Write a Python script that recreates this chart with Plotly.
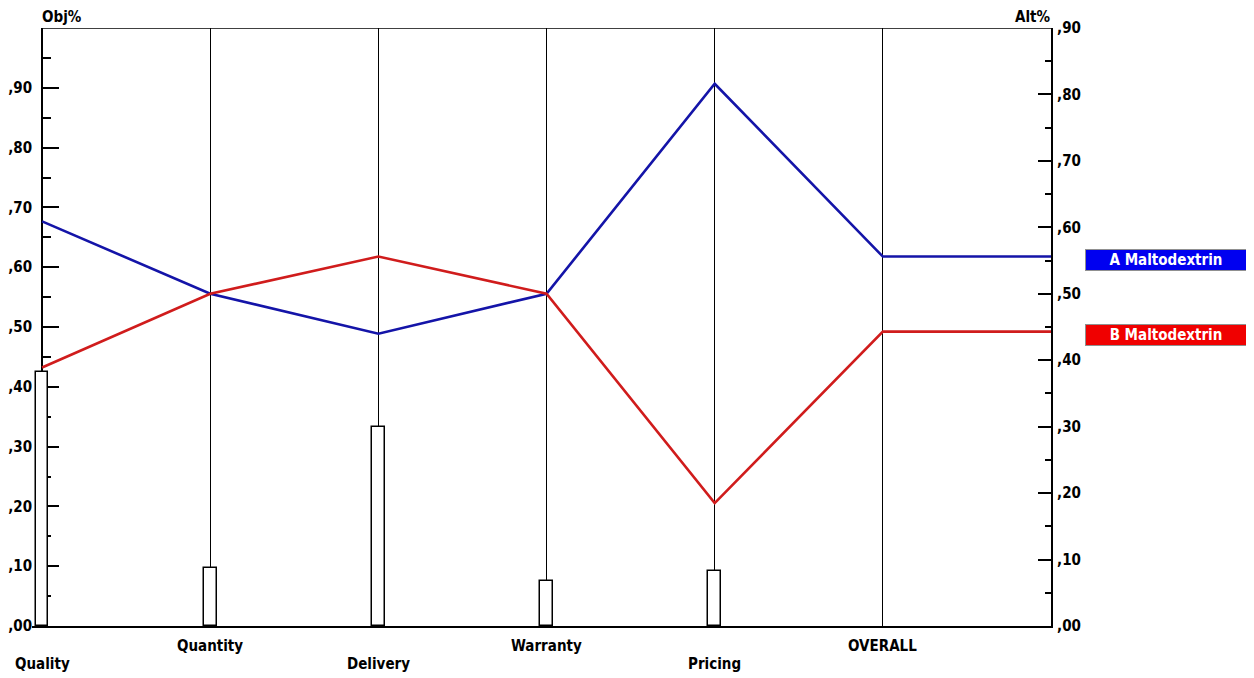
import plotly.graph_objects as go

# ---------------- data ----------------
categories = ["Quality", "Quantity", "Delivery", "Warranty", "Pricing", "OVERALL"]
objective_weights = [0.424, 0.097, 0.332, 0.075, 0.092]          # Obj% bars (left axis)
alt_a_name = "A Maltodextrin"
alt_b_name = "B Maltodextrin"
alt_a_values = [0.609, 0.500, 0.440, 0.500, 0.816, 0.556]          # Alt% (right axis)
alt_b_values = [0.389, 0.500, 0.556, 0.500, 0.185, 0.443]
left_tickvals = [0.0, 0.1, 0.2, 0.3, 0.4, 0.5, 0.6, 0.7, 0.8, 0.9]
left_ticktext = [",00", ",10", ",20", ",30", ",40", ",50", ",60", ",70", ",80", ",90"]
right_tickvals = [0.0, 0.1, 0.2, 0.3, 0.4, 0.5, 0.6, 0.7, 0.8, 0.9]
right_ticktext = [",00", ",10", ",20", ",30", ",40", ",50", ",60", ",70", ",80", ",90"]

# ---------------- styling ----------------
FONT = "Liberation Sans Narrow, DejaVu Sans Condensed, Arial Narrow, sans-serif"
BLUE_LINE = "#1414a8"
RED_LINE = "#d01c1c"
BLUE_BOX = "#0000f0"
RED_BOX = "#f00000"
XMIN = -0.06
n = len(categories)
XMAX = n  # right axis position

# page body has an 8px margin, so the figure is sized/offset accordingly
W, H = 1246, 670
ML, MR, MT, MB = 24, 203, 20, 52

fig = go.Figure()

# objective weight bars on left axis
fig.add_trace(go.Bar(
    x=list(range(len(objective_weights))), y=objective_weights,
    width=0.076, marker=dict(color="white", line=dict(color="black", width=1.5)),
    yaxis="y", hoverinfo="skip", showlegend=False))

# alternative lines on right axis (extended horizontally past OVERALL to the right axis)
xs = list(range(n)) + [XMAX]
fig.add_trace(go.Scatter(x=xs, y=alt_a_values + [alt_a_values[-1]], mode="lines",
                         line=dict(color=BLUE_LINE, width=2.6), yaxis="y2",
                         name=alt_a_name, showlegend=False, cliponaxis=False))
fig.add_trace(go.Scatter(x=xs, y=alt_b_values + [alt_b_values[-1]], mode="lines",
                         line=dict(color=RED_LINE, width=2.6), yaxis="y2",
                         name=alt_b_name, showlegend=False, cliponaxis=False))

tickfont = dict(family=FONT, size=15, color="black", weight="bold")

fig.update_layout(
    width=W, height=H,
    margin=dict(l=ML, r=MR, t=MT, b=MB, autoexpand=False),
    paper_bgcolor="white", plot_bgcolor="white",
    showlegend=False,
    bargap=0,
    xaxis=dict(range=[XMIN, XMAX], domain=[0, 1], showgrid=True, gridcolor="black",
               gridwidth=1, tick0=0, dtick=1, showticklabels=False, ticks="",
               zeroline=False, showline=True, linecolor="black", linewidth=2,
               fixedrange=True),
    yaxis=dict(range=[0, 1], anchor="free", position=(0 - XMIN) / (XMAX - XMIN),
               tickmode="array", tickvals=left_tickvals, ticktext=left_ticktext,
               ticks="inside", ticklen=16, tickwidth=1.5, tickcolor="black",
               minor=dict(tickmode="linear", tick0=0, dtick=0.05, ticks="inside",
                          ticklen=8, tickwidth=1.5, tickcolor="black"),
               showline=True, linecolor="black", linewidth=2,
               showgrid=False, zeroline=False, tickfont=tickfont,
               ticklabelstandoff=6, layer="below traces"),
    yaxis2=dict(range=[0, 0.9], overlaying="y", side="right", anchor="x",
                tickmode="array", tickvals=right_tickvals, ticktext=right_ticktext,
                ticks="inside", ticklen=13, tickwidth=1.5, tickcolor="black",
                minor=dict(tickmode="linear", tick0=0, dtick=0.05, ticks="inside",
                           ticklen=6, tickwidth=1.5, tickcolor="black"),
                showline=True, linecolor="black", linewidth=2,
                showgrid=False, zeroline=False, tickfont=tickfont,
                ticklabelstandoff=1),
)

# top frame line
fig.add_shape(type="line", xref="x", yref="y", x0=0, x1=XMAX, y0=1, y1=1,
              line=dict(color="black", width=1.5))

# category labels, alternating rows
labfont = dict(family=FONT, size=15, color="black", weight="bold")
for i, c in enumerate(categories):
    row2 = (i % 2 == 0)
    fig.add_annotation(x=i, xref="x", y=0, yref="paper",
                       yshift=-38 if row2 else -20, text=c, showarrow=False,
                       font=labfont, xanchor="center", yanchor="middle")

# axis titles
fig.add_annotation(x=(0 - XMIN) / (XMAX - XMIN), xref="paper", y=1, yref="paper",
                   yshift=11, text="Obj%", showarrow=False, font=labfont,
                   xanchor="left", yanchor="middle", xshift=-2)
fig.add_annotation(x=1, xref="paper", y=1, yref="paper", yshift=11, text="Alt%",
                   showarrow=False, font=labfont, xanchor="right", yanchor="middle",
                   xshift=2)

# alternative labels as coloured boxes at their overall value
boxfont = dict(family=FONT, size=15, color="white", weight="bold")
for name, vals, col in [(alt_a_name, alt_a_values, BLUE_BOX), (alt_b_name, alt_b_values, RED_BOX)]:
    fig.add_annotation(x=1, xref="paper", y=vals[-1], yref="y2", xshift=34,
                       text=name, showarrow=False, font=boxfont,
                       bgcolor=col, bordercolor="#909090", borderwidth=1,
                       width=158, height=18, xanchor="left", yanchor="middle",
                       align="center", yshift=-3)

fig.write_html("out.html")
